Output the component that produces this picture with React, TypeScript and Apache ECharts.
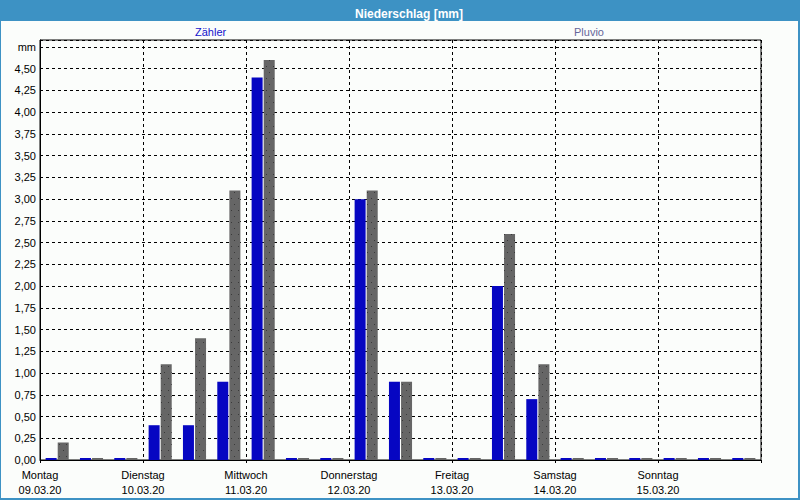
import React, { useEffect, useRef } from "react";
import * as echarts from "echarts";

const days = ["Montag", "Dienstag", "Mittwoch", "Donnerstag", "Freitag", "Samstag", "Sonntag"];
const dates = ["09.03.20", "10.03.20", "11.03.20", "12.03.20", "13.03.20", "14.03.20", "15.03.20"];
const slots = ["00-08", "08-16", "16-24"];
const zaehler = [0, 0, 0, 0.4, 0.4, 0.9, 4.4, 0, 0, 3.0, 0.9, 0, 0, 2.0, 0.7, 0, 0, 0, 0, 0, 0];
const pluvio = [0.2, 0, 0, 1.1, 1.4, 3.1, 4.6, 0, 0, 3.1, 0.9, 0, 0, 2.6, 1.1, 0, 0, 0, 0, 0, 0];
const yTicks = [0, 0.25, 0.5, 0.75, 1, 1.25, 1.5, 1.75, 2, 2.25, 2.5, 2.75, 3, 3.25, 3.5, 3.75, 4, 4.25, 4.5, 4.75];

const FONT = "'Liberation Sans', Arial, sans-serif";

export default function App() {
  const ref = useRef<HTMLDivElement>(null);
  useEffect(() => {
    if (!ref.current) return;
    const chart = echarts.init(ref.current, null, { renderer: "svg" });
    const categories: string[] = [];
    dates.forEach((d) => slots.forEach((s) => categories.push(d + " " + s)));
    chart.setOption({
      animation: false,
      backgroundColor: "#fbfdfb",
      textStyle: { fontFamily: FONT },
      title: {
        text: "Niederschlag [mm]",
        left: 350,
        top: 3,
        textStyle: { color: "#ffffff", fontWeight: "bold", fontSize: 12, fontFamily: FONT },
        z: 10,
      },
      graphic: [
        { type: "rect", shape: { x: 0, y: 0, width: 800, height: 21 }, style: { fill: "#3d92c4" }, z: 0 },
        { type: "rect", shape: { x: 0, y: 0, width: 1, height: 500 }, style: { fill: "#3d92c4" } },
        { type: "rect", shape: { x: 798, y: 0, width: 2, height: 500 }, style: { fill: "#3d92c4" } },
        { type: "rect", shape: { x: 0, y: 498, width: 800, height: 2 }, style: { fill: "#3d92c4" } },
      ],
      legend: [
        {
          data: ["Zähler"],
          left: 190,
          top: 25,
          padding: 0,
          icon: "none",
          itemWidth: 0,
          textStyle: { color: "#1414cc", fontSize: 11, fontFamily: FONT },
          selectedMode: false,
        },
        {
          data: ["Pluvio"],
          left: 569,
          top: 25,
          padding: 0,
          icon: "none",
          itemWidth: 0,
          textStyle: { color: "#66669a", fontSize: 11, fontFamily: FONT },
          selectedMode: false,
        },
      ],
      grid: {
        left: 40,
        right: 39,
        top: 40,
        bottom: 40,
        show: true,
        borderColor: "#000",
        borderWidth: 1,
        backgroundColor: "transparent",
      },
      xAxis: [
        {
          type: "category",
          data: categories,
          axisLine: { show: true, lineStyle: { color: "#000", width: 1 } },
          axisTick: { show: false },
          axisLabel: { show: false },
          splitLine: { show: false },
        },
        {
          type: "value",
          min: 0,
          max: 7,
          interval: 1,
          position: "bottom",
          axisLine: { show: false },
          axisTick: { show: true, length: 5, lineStyle: { color: "#000", type: [3, 2] } },
          axisLabel: {
            margin: 7,
            color: "#000",
            fontSize: 11,
            lineHeight: 15,
            fontFamily: FONT,
            formatter: (v: number) => (v < 7 ? days[v] + "\n" + dates[v] : ""),
          },
          splitLine: { show: true, lineStyle: { color: "#000", type: [3, 3], width: 1 } },
        },
      ],
      yAxis: {
        type: "value",
        min: 0,
        max: 4.83,
        interval: 0.25,
        axisLine: { show: true, lineStyle: { color: "#000" } },
        axisTick: { show: false },
        axisLabel: {
          margin: 4,
          color: "#000",
          fontSize: 11,
          fontFamily: FONT,
          showMaxLabel: false,
          formatter: (v: number) => {
            const t = yTicks.find((x) => Math.abs(x - v) < 1e-6);
            if (t === undefined) return "";
            if (Math.abs(t - 4.75) < 1e-6) return "mm";
            return t.toFixed(2).replace(".", ",");
          },
        },
        splitLine: { show: true, lineStyle: { color: "#000", type: [3, 3], width: 1 } },
      },
      series: [
        {
          name: "Zähler",
          type: "bar",
          xAxisIndex: 0,
          data: zaehler,
          barWidth: 11,
          barGap: "10%",
          barMinHeight: 2,
          itemStyle: { color: "#0606c2" },
        },
        {
          name: "Pluvio",
          type: "bar",
          xAxisIndex: 0,
          data: pluvio,
          barWidth: 11,
          barGap: "10%",
          barMinHeight: 2,
          itemStyle: {
            color: "#666666",
            decal: {
              symbol: "rect",
              symbolSize: 1,
              color: "#3a3a3a",
              dashArrayX: [[1, 6], [0, 3, 1, 3]],
              dashArrayY: [1, 5],
              rotation: 0,
            },
          },
        },
      ],
    });
    return () => chart.dispose();
  }, []);
  return (
    <div
      ref={ref}
      style={{ position: "fixed", left: 0, top: 0, width: 800, height: 500 }}
    />
  );
}
